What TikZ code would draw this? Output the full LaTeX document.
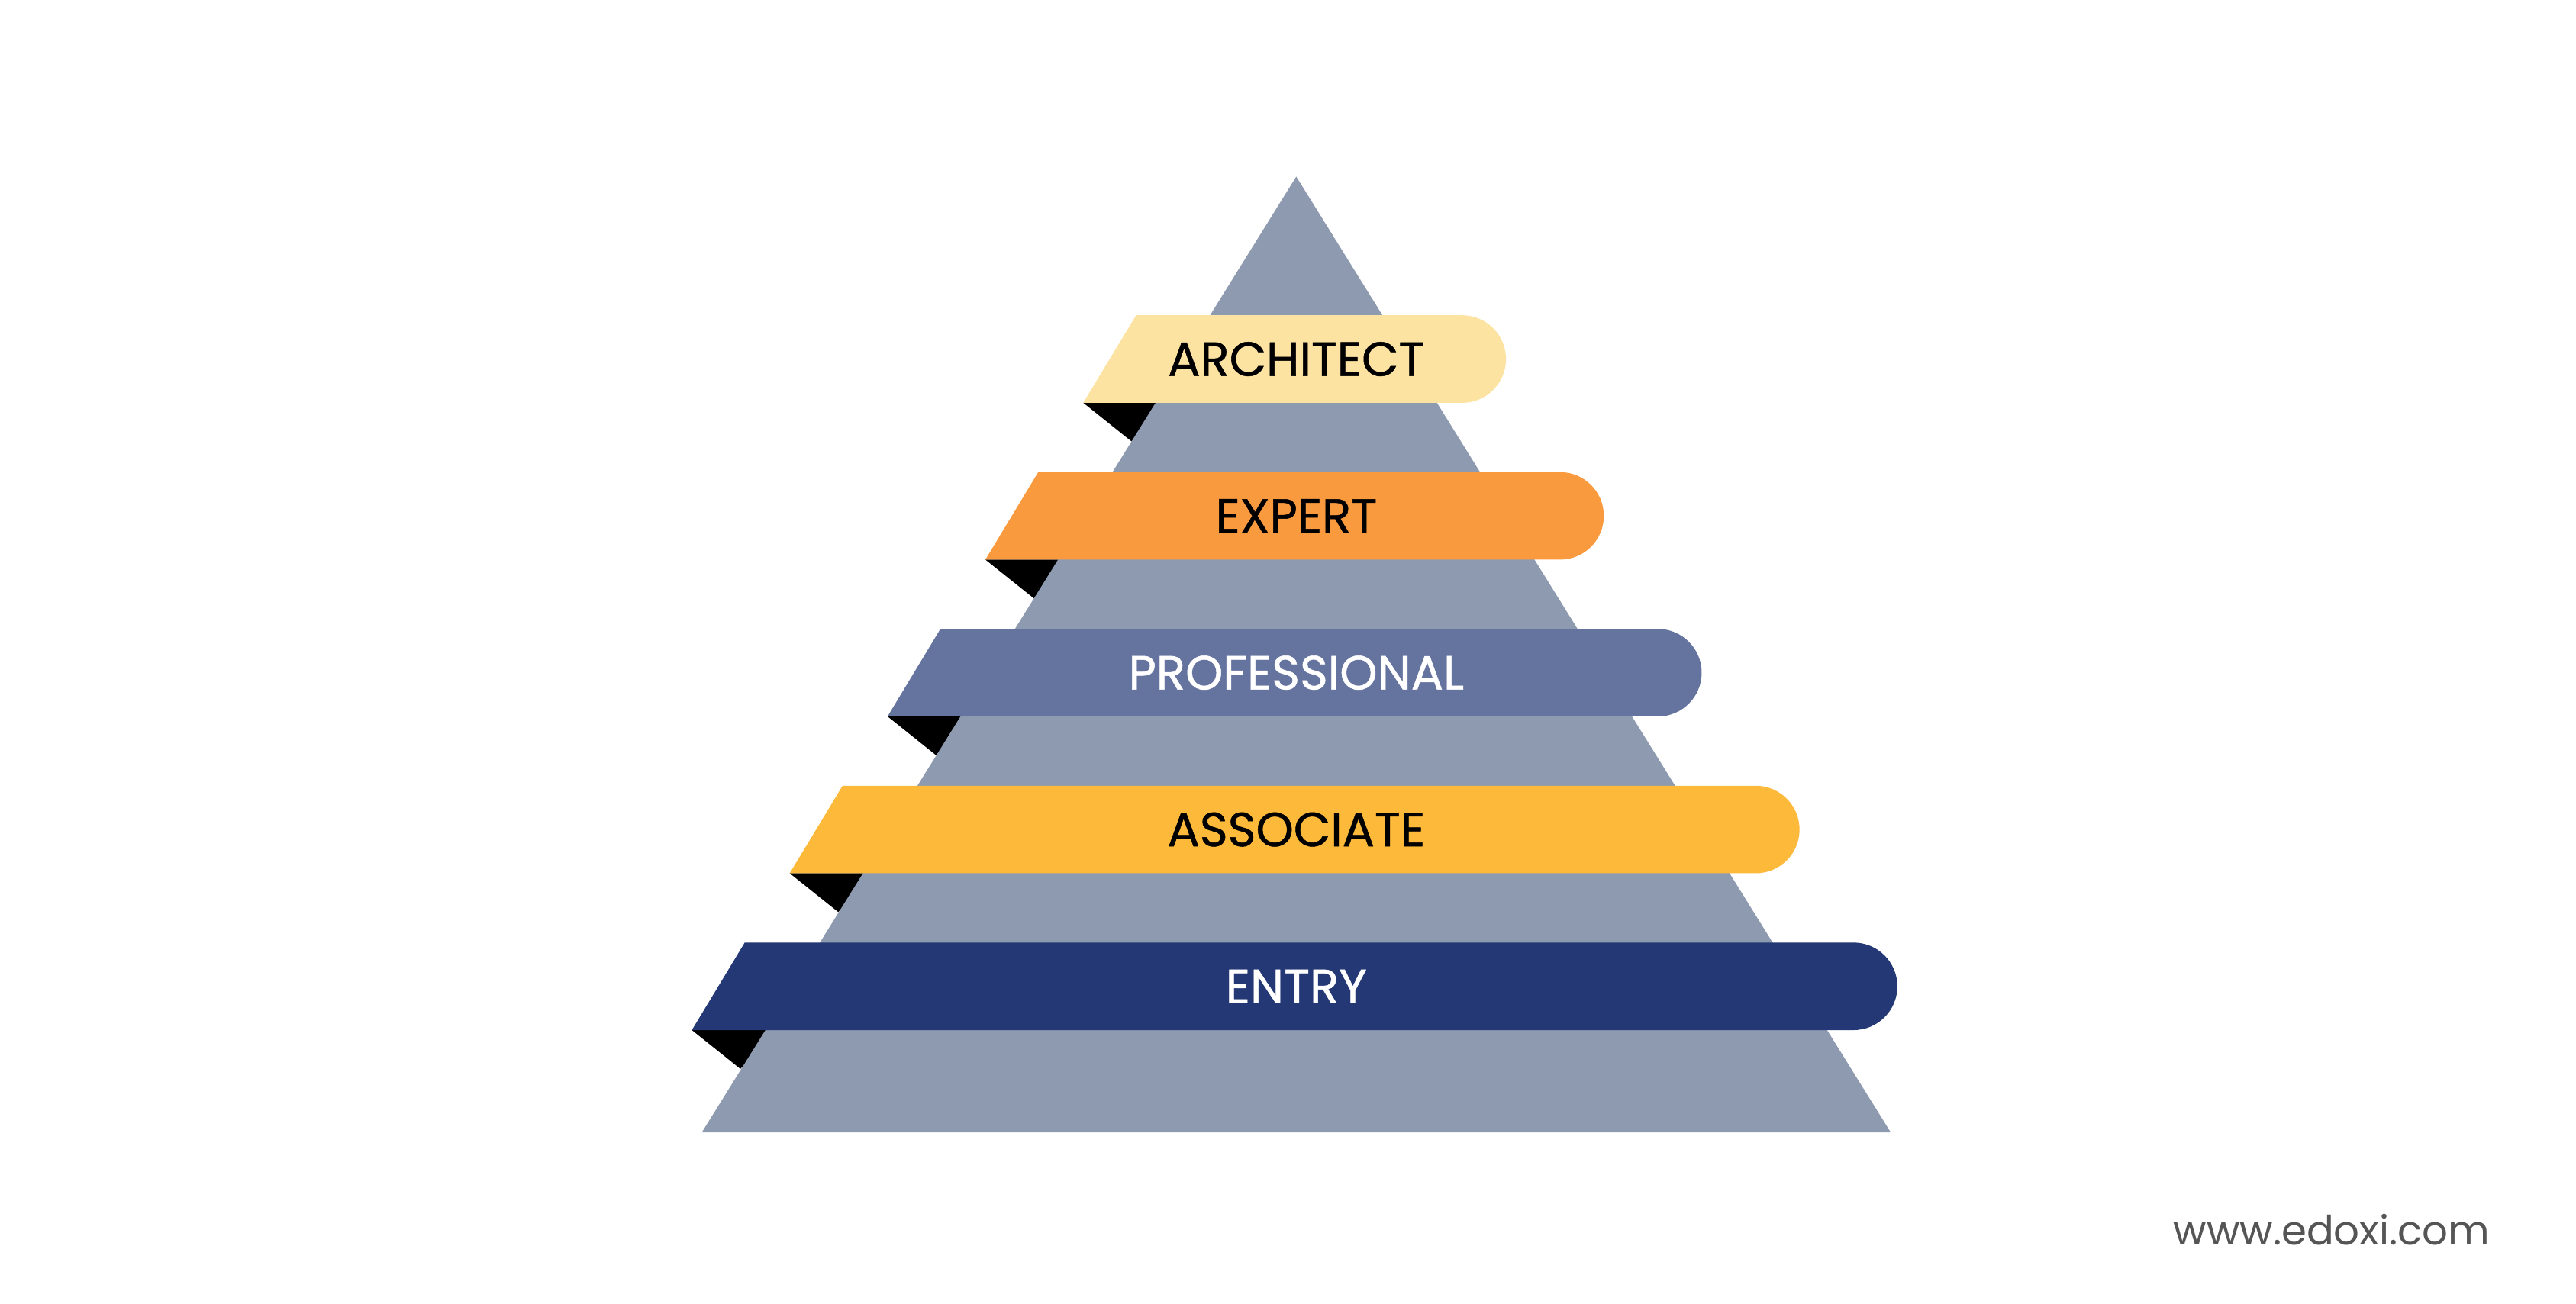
\documentclass[tikz,border=0pt]{standalone}
\usepackage{fontspec}
\newfontfamily\labfont{Poppins}[FakeBold=0.8]
\newfontfamily\urlfont{Poppins}
\definecolor{pyr}{HTML}{8E9AB0}
\definecolor{archc}{HTML}{FDE3A2}
\definecolor{expc}{HTML}{FA9A3F}
\definecolor{proc}{HTML}{65739F}
\definecolor{assc}{HTML}{FDB93A}
\definecolor{entc}{HTML}{233874}
\definecolor{urlgray}{HTML}{555555}
\tikzset{
  foldshape/.style={fill=black},
  labeltext/.style={font=\labfont\fontsize{29}{29}\selectfont, inner sep=0pt},
  urltext/.style={font=\urlfont\fontsize{24.5}{24.5}\selectfont, text=urlgray, inner sep=0pt}
}
\begin{document}
\begin{tikzpicture}[x=1pt,y=-1pt]
\useasboundingbox (0,0) rectangle (1560,789.5);
\fill[white] (0,0) rectangle (1560,789.5);
% folds behind the pyramid
\foreach \i in {0,...,4}{
  \pgfmathsetmacro\X{656-59.25*\i}
  \pgfmathsetmacro\B{244+95*\i}
  \fill[foldshape] (\X,\B) -- ++(29.4,23.5) -- (\X+50,\B) -- cycle;
}
% pyramid
\fill[pyr] (785,107) -- (1145,686) -- (425,686) -- cycle;
% bands
\foreach \i/\col/\tc/\lab in {0/archc/black/ARCHITECT,1/expc/black/EXPERT,2/proc/white/PROFESSIONAL,3/assc/black/ASSOCIATE,4/entc/white/ENTRY}{
  \pgfmathsetmacro\X{656-59.25*\i}
  \pgfmathsetmacro\B{244+95*\i}
  \pgfmathsetmacro\R{912+59.25*\i}
  \fill[\col] (\X,\B) -- (\X+32,\B-53) -- (\R-26.5,\B-53) arc[start angle=90, end angle=-90, radius=26.5pt] -- cycle;
  \node[labeltext, text=\tc] (lab\i) at (785,\B-26.5) {\lab};
}
\node[urltext, anchor=east] (url) at (1508,745) {www.edoxi.com};
\end{tikzpicture}
\end{document}
